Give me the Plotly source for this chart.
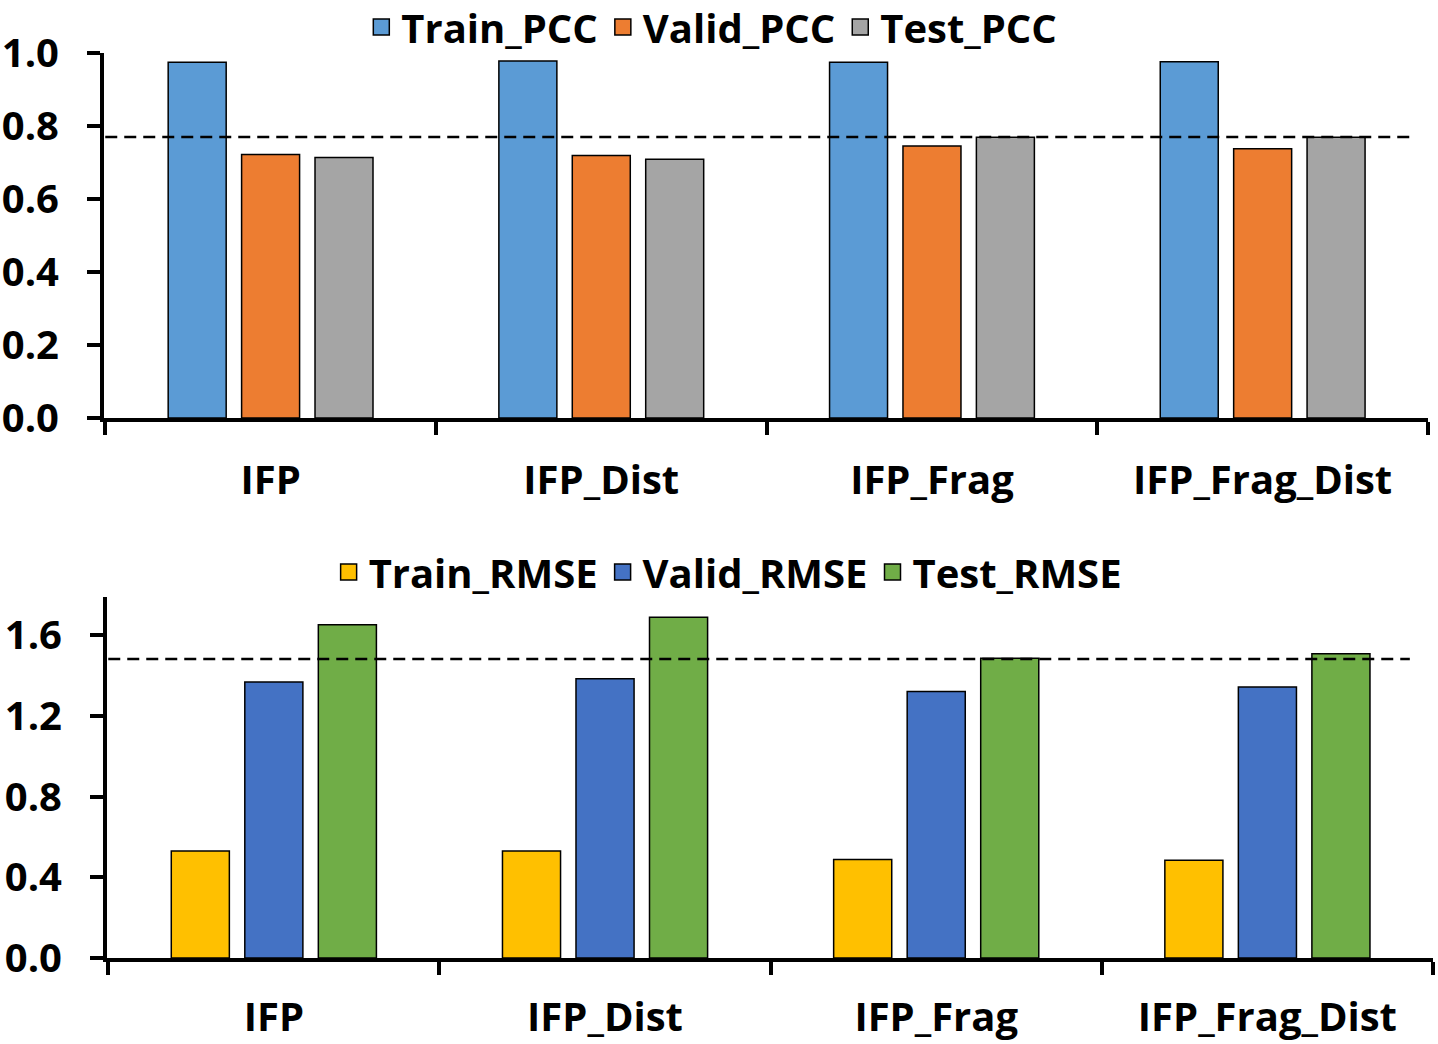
import plotly.graph_objects as go

categories = ["IFP", "IFP_Dist", "IFP_Frag", "IFP_Frag_Dist"]

train_pcc = [0.975, 0.978, 0.975, 0.976]
valid_pcc = [0.722, 0.719, 0.745, 0.738]
test_pcc = [0.714, 0.709, 0.769, 0.769]
pcc_reference = 0.770

train_rmse = [0.530, 0.530, 0.489, 0.485]
valid_rmse = [1.368, 1.385, 1.322, 1.344]
test_rmse = [1.653, 1.689, 1.486, 1.509]
rmse_reference = 1.482

pcc_ticks = [0.0, 0.2, 0.4, 0.6, 0.8, 1.0]
rmse_ticks = [0.0, 0.4, 0.8, 1.2, 1.6]

W, H = 1438, 1044
FONT = dict(family="Open Sans", size=40, color="black", weight="bold")

fig = go.Figure()

top_series = [("Train_PCC", train_pcc, "#5B9BD5"),
              ("Valid_PCC", valid_pcc, "#ED7D31"),
              ("Test_PCC", test_pcc, "#A5A5A5")]
bot_series = [("Train_RMSE", train_rmse, "#FFC000"),
              ("Valid_RMSE", valid_rmse, "#4472C4"),
              ("Test_RMSE", test_rmse, "#70AD47")]

def add_group(series, xa, ya, leg):
    for name, vals, col in series:
        fig.add_trace(go.Bar(x=categories, y=vals, name=name, xaxis=xa, yaxis=ya,
                             marker=dict(color=col, line=dict(color="black", width=1.5)),
                             legendgroup=name, showlegend=False))
        # legend swatch (larger square than the default bar symbol)
        fig.add_trace(go.Scatter(x=[None], y=[None], name=name, xaxis=xa, yaxis=ya,
                                 mode="markers", legendgroup=name, legend=leg,
                                 marker=dict(symbol="square", size=26, color=col,
                                             line=dict(color="black", width=1.5)),
                                 hoverinfo="skip"))

add_group(top_series, "x", "y", "legend")
add_group(bot_series, "x2", "y2", "legend2")

fig.add_shape(type="line", xref="x", yref="y", x0=-0.5, x1=3.445,
              y0=pcc_reference, y1=pcc_reference,
              line=dict(color="black", width=2.5, dash="12px,7px"))
fig.add_shape(type="line", xref="x2", yref="y2", x0=-0.5, x1=3.43,
              y0=rmse_reference, y1=rmse_reference,
              line=dict(color="black", width=2.5, dash="12px,7px"))

xcommon = dict(showline=True, linewidth=4, linecolor="black", ticks="outside",
               tickson="boundaries", ticklen=13, tickwidth=4, tickcolor="black",
               showgrid=False, tickfont=FONT, zeroline=False,
               automargin=False, type="category")
ycommon = dict(showline=True, linewidth=4, linecolor="black", ticks="outside",
               ticklen=13, tickwidth=4, tickcolor="black", showgrid=False,
               tickfont=FONT, tickformat=".1f", zeroline=False, ticklabelstandoff=20,
               automargin=False)

fig.update_layout(
    width=W, height=H,
    margin=dict(l=0, r=0, t=0, b=0, autoexpand=False),
    paper_bgcolor="white", plot_bgcolor="white",
    barmode="group", bargap=0.334, bargroupgap=0.21,
    font=FONT,
    xaxis=dict(domain=[104 / W, 1428 / W], anchor="y", ticklabelstandoff=24, **xcommon),
    yaxis=dict(domain=[(H - 418) / H, (H - 53) / H], anchor="x",
               range=[0, 1.0], tickvals=pcc_ticks, **ycommon),
    xaxis2=dict(domain=[107 / W, 1433 / W], anchor="y2", ticklabelstandoff=21, **xcommon),
    yaxis2=dict(domain=[(H - 958) / H, (H - 597) / H], anchor="x2",
                range=[0, 1.79], tickvals=rmse_ticks, **ycommon),
    legend=dict(orientation="h", x=0.495, xanchor="center", y=(H - 27) / H,
                yanchor="middle", font=FONT, bgcolor="rgba(0,0,0,0)",
                itemsizing="trace"),
    legend2=dict(orientation="h", x=0.506, xanchor="center", y=(H - 572) / H,
                 yanchor="middle", font=FONT, bgcolor="rgba(0,0,0,0)",
                 itemsizing="trace"),
)

fig.write_html("out.html", config={"displayModeBar": False},
               post_script="document.body.style.margin='0';")
